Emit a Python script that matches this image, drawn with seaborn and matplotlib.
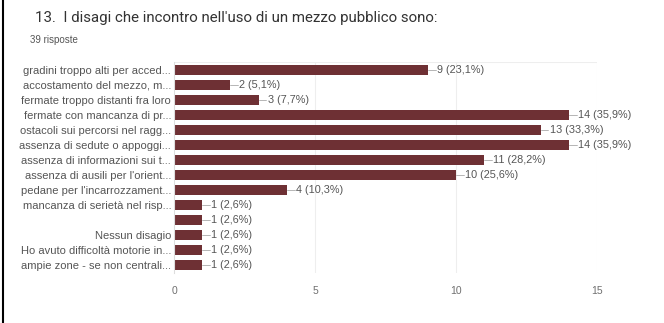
import matplotlib
matplotlib.use("Agg")
import matplotlib.pyplot as plt
import seaborn as sns
import pandas as pd
from matplotlib.lines import Line2D

categories = [
    "gradini troppo alti per acced...",
    "accostamento del mezzo, m...",
    "fermate troppo distanti fra loro",
    "fermate con mancanza di pr...",
    "ostacoli sui percorsi nel ragg...",
    "assenza di sedute o appoggi...",
    "assenza di informazioni sui t...",
    "assenza di ausili per l'orient...",
    "pedane per l'incarrozzament...",
    "mancanza di serietà nel risp...",
    " ",
    "Nessun disagio",
    "Ho avuto difficoltà motorie in...",
    "ampie zone - se non centrali...",
]
counts = [9, 2, 3, 14, 13, 14, 11, 10, 4, 1, 1, 1, 1, 1]
percent_labels = ["23,1%", "5,1%", "7,7%", "35,9%", "33,3%", "35,9%", "28,2%",
                  "25,6%", "10,3%", "2,6%", "2,6%", "2,6%", "2,6%", "2,6%"]
x_ticks = [0, 5, 10, 15]
title = "13.  I disagi che incontro nell'uso di un mezzo pubblico sono:"
subtitle = "39 risposte"

sns.set_style("white")
plt.rcParams['font.family'] = ['Liberation Sans', 'DejaVu Sans']

df = pd.DataFrame({"cat": [f"{i}" for i in range(len(categories))], "n": counts})

fig = plt.figure(figsize=(6.64, 3.23), dpi=100)
ax = fig.add_axes([174/664, 1 - 273/323, (597 - 174)/664, (273 - 62)/323])

bar_color = "#6e3034"
sns.barplot(data=df, y="cat", x="n", orient="h", color=bar_color, width=0.66,
            saturation=1, ax=ax, edgecolor="none")

ax.set_xlim(0, 15)
ax.set_ylim(len(categories) - 0.5, -0.5)
ax.set_xticks(x_ticks)
ax.set_xticklabels([str(t) for t in x_ticks], fontsize=7.5, color="#707070")
ax.set_yticks(range(len(categories)))
ax.set_yticklabels(categories, fontsize=8, color="#555555")
ax.set_xlabel("")
ax.set_ylabel("")
ax.tick_params(axis="x", length=0, pad=9)
ax.tick_params(axis="y", length=0, pad=2)

for t in x_ticks[1:]:
    ax.axvline(t, color="#eeeeee", lw=0.8, zorder=0)
for s in ["top", "right", "bottom"]:
    ax.spines[s].set_visible(False)
ax.spines["left"].set_color("#dddddd")
ax.spines["left"].set_linewidth(0.8)
ax.axhline(-0.5, color="#eeeeee", lw=0.8, zorder=0)

for i, (c, p) in enumerate(zip(counts, percent_labels)):
    ax.plot([c, c + 0.28], [i, i], color="#aaaaaa", lw=0.6, clip_on=False)
    ax.text(c + 0.32, i, f"{c} ({p})", va="center", ha="left",
            fontsize=7.8, color="#555555", clip_on=False)

fig.text(35/664, 1 - 18/323, title, fontsize=10.8, color="#333333", va="center",
         family=["Roboto", "DejaVu Sans"])
fig.text(30/664, 1 - 40/323, subtitle, fontsize=7, color="#555555", va="center")

fig.add_artist(Line2D([2.5/664, 2.5/664], [0, 1], color="black", lw=1.5,
                      transform=fig.transFigure))

fig.savefig("out.png", dpi=100, facecolor="white")
